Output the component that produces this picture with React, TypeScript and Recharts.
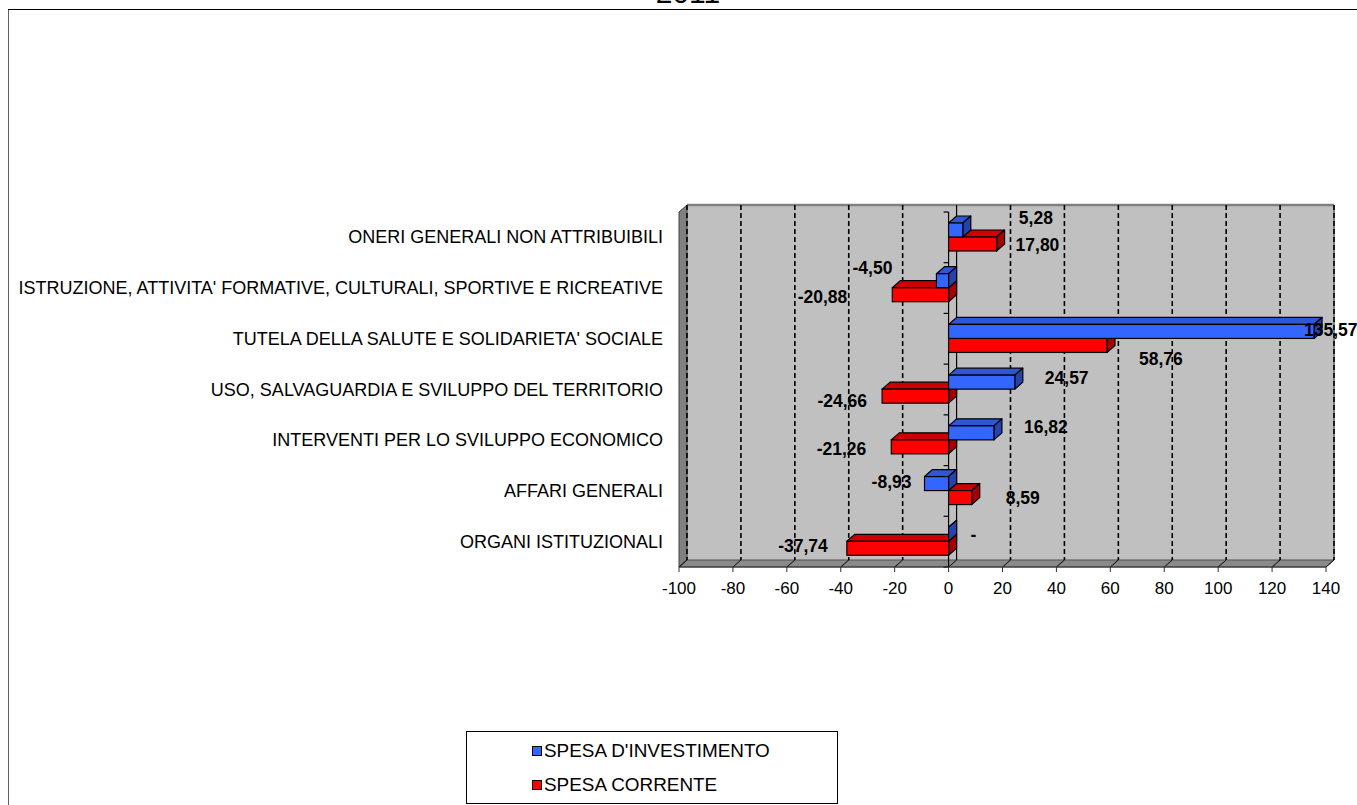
import React from "react";
import {
  BarChart,
  Bar,
  XAxis,
  YAxis,
  ReferenceArea,
  LabelList,
  Legend,
} from "recharts";

// Variazioni percentuali della spesa per funzione, anno 2011
const categories = [
  "ONERI GENERALI NON ATTRIBUIBILI",
  "ISTRUZIONE, ATTIVITA' FORMATIVE, CULTURALI, SPORTIVE E RICREATIVE",
  "TUTELA DELLA SALUTE E SOLIDARIETA' SOCIALE",
  "USO, SALVAGUARDIA E SVILUPPO DEL TERRITORIO",
  "INTERVENTI PER LO SVILUPPO ECONOMICO",
  "AFFARI GENERALI",
  "ORGANI ISTITUZIONALI",
];
const spesaInvestimento = [5.28, -4.5, 135.57, 24.57, 16.82, -8.93, 0];
const spesaCorrente = [17.8, -20.88, 58.76, -24.66, -21.26, 8.59, -37.74];
const xTicks = [-100, -80, -60, -40, -20, 0, 20, 40, 60, 80, 100, 120, 140];

// label nudges per category: [distance from bar end, vertical shift]
const invLabelShift = [[56, -12], [44, -13], [-10, -1], [30, -4], [30, -6], [13, -2], [22, 1]];
const corrLabelShift = [[19, 1], [45, 2], [32, 14], [15, 5], [25, 2], [34, 0], [19, -2]];

const FONT = "'Liberation Sans', Arial, sans-serif";
const DEPTH_X = 8;
const DEPTH_Y = -7;

const series = [
  { key: "inv", name: "SPESA D'INVESTIMENTO", front: "#3366FF", top: "#2E56D6", side: "#2343AE" },
  { key: "corr", name: "SPESA CORRENTE", front: "#FF0000", top: "#CC0000", side: "#A60000" },
];

const rows = categories.map((c, i) => ({
  category: c,
  inv: spesaInvestimento[i],
  corr: spesaCorrente[i],
}));

function fmt(v: number) {
  if (v === 0) return "-";
  return v.toFixed(2).replace(".", ",");
}

// box with a top face and a right side face
function bar3d(front: string, top: string, side: string) {
  return (props: any) => {
    const { x, y, width, height } = props;
    const l = Math.min(x, x + width);
    const r = Math.max(x, x + width);
    const t = Math.min(y, y + height);
    const b = Math.max(y, y + height);
    return (
      <g>
        <polygon
          points={`${l},${t} ${l + DEPTH_X},${t + DEPTH_Y} ${r + DEPTH_X},${t + DEPTH_Y} ${r},${t}`}
          fill={top}
          stroke="#000"
          strokeWidth={1.2}
          strokeLinejoin="round"
        />
        <polygon
          points={`${r},${t} ${r + DEPTH_X},${t + DEPTH_Y} ${r + DEPTH_X},${b + DEPTH_Y} ${r},${b}`}
          fill={side}
          stroke="#000"
          strokeWidth={1.2}
          strokeLinejoin="round"
        />
        <rect x={l} y={t} width={r - l} height={b - t} fill={front} stroke="#000" strokeWidth={1.2} />
      </g>
    );
  };
}

function valueLabel(shift: number[][]) {
  return (props: any) => {
    const vb = props.viewBox && props.viewBox.width !== undefined ? props.viewBox : props;
    const { x, y, width, height } = vb;
    const raw = Array.isArray(props.value) ? props.value[1] : props.value;
    const v = Number(raw);
    const [gap, dy] = shift[props.index] ?? [20, 0];
    const l = Math.min(x, x + width);
    const r = Math.max(x, x + width);
    const neg = v < 0;
    return (
      <text
        x={neg ? l - gap : r + gap}
        y={y + height / 2 + dy}
        textAnchor={neg ? "end" : "start"}
        dominantBaseline="central"
        fontFamily={FONT}
        fontSize={17.5}
        fontWeight="bold"
        fill="#000"
      >
        {fmt(v)}
      </text>
    );
  };
}

// walls, floor, dashed grid and the zero plane of the 3D plot
function Backdrop(props: any) {
  const { x, y, width: w, height: h } = props;
  const min = xTicks[0];
  const max = xTicks[xTicks.length - 1];
  const px = (v: number) => x + (w * (v - min)) / (max - min);
  const bx = x + DEPTH_X;
  const by = y + DEPTH_Y;
  const zero = px(0);
  const n = categories.length;
  return (
    <g>
      <rect x={bx} y={by} width={w} height={h} fill="#C0C0C0" />
      <polygon
        points={`${x},${y} ${bx},${by} ${bx},${by + h} ${x},${y + h}`}
        fill="#808080"
        stroke="#404040"
        strokeWidth={1}
      />
      <polygon
        points={`${x},${y + h} ${bx},${by + h} ${bx + w},${by + h} ${x + w},${y + h}`}
        fill="#8A8A8A"
        stroke="#505050"
        strokeWidth={1}
      />
      <line x1={bx} y1={by} x2={bx + w} y2={by} stroke="#808080" strokeWidth={2.5} />
      <line x1={bx + w} y1={by} x2={bx + w} y2={by + h} stroke="#808080" strokeWidth={2} />
      {xTicks.map((t) => (
        <g key={t}>
          {t !== 0 && (
            <line
              x1={px(t) + DEPTH_X}
              y1={by}
              x2={px(t) + DEPTH_X}
              y2={by + h}
              stroke="#000"
              strokeWidth={1.6}
              strokeDasharray="5 3"
            />
          )}
          <line x1={px(t) + DEPTH_X} y1={by + h} x2={px(t)} y2={y + h} stroke="#000" strokeWidth={1} />
        </g>
      ))}
      <line x1={zero + DEPTH_X} y1={by} x2={zero + DEPTH_X} y2={by + h} stroke="#000" strokeWidth={1.2} />
      <line x1={zero} y1={y} x2={zero} y2={y + h} stroke="#000" strokeWidth={1.2} />
      {Array.from({ length: n + 1 }, (_, i) => (
        <line key={i} x1={zero - 5} y1={y + (h * i) / n} x2={zero} y2={y + (h * i) / n} stroke="#000" strokeWidth={1.2} />
      ))}
    </g>
  );
}

function CategoryTick(props: any) {
  const { x, y, payload } = props;
  return (
    <text x={x} y={y} textAnchor="end" dominantBaseline="central" fontFamily={FONT} fontSize={18} fill="#000">
      {payload.value}
    </text>
  );
}

function LegendBox() {
  return (
    <div
      style={{
        position: "relative",
        width: 372,
        height: 73,
        border: "1px solid #000",
        boxSizing: "border-box",
        background: "#fff",
        fontFamily: FONT,
        fontSize: 18.9,
        color: "#000",
      }}
    >
      {series.map((s, i) => (
        <div
          key={s.key}
          style={{
            position: "absolute",
            left: 65,
            top: 7 + i * 34,
            height: 24,
            display: "flex",
            alignItems: "center",
            whiteSpace: "nowrap",
          }}
        >
          <span
            style={{
              display: "inline-block",
              width: 8,
              height: 8,
              background: s.front,
              border: "1px solid #000",
              marginRight: 2,
            }}
          />
          <span>{s.name}</span>
        </div>
      ))}
    </div>
  );
}

export default function App() {
  return (
    <div
      style={{
        position: "absolute",
        left: 0,
        top: 0,
        width: 1357,
        height: 805,
        overflow: "hidden",
        background: "#fff",
      }}
    >
      <svg width={1357} height={805} style={{ position: "absolute", left: 0, top: 0 }}>
        <line x1={8.5} y1={9.5} x2={8.5} y2={805} stroke="#606060" strokeWidth={1} />
        <line x1={8} y1={9.5} x2={1357} y2={9.5} stroke="#000" strokeWidth={1} />
        <text x={688} y={3} textAnchor="middle" fontFamily={FONT} fontSize={30} fill="#000">
          2011
        </text>
      </svg>
      <div style={{ position: "absolute", left: 0, top: 0 }}>
        <BarChart
          width={1357}
          height={805}
          layout="vertical"
          data={rows}
          margin={{ top: 212, right: 31, bottom: 208, left: 0 }}
          barSize={14}
          barGap={0}
        >
          <XAxis
            type="number"
            domain={[xTicks[0], xTicks[xTicks.length - 1]]}
            ticks={xTicks}
            interval={0}
            allowDataOverflow
            height={30}
            tickSize={5}
            tickMargin={10}
            stroke="#333"
            tick={{ fill: "#000", fontSize: 17, fontFamily: FONT }}
          />
          <YAxis
            type="category"
            dataKey="category"
            width={679}
            axisLine={false}
            tickLine={false}
            tickSize={0}
            tickMargin={16}
            interval={0}
            tick={<CategoryTick />}
          />
          <ReferenceArea x1={xTicks[0]} x2={xTicks[xTicks.length - 1]} shape={<Backdrop />} zIndex={-100} />
          <Bar
            dataKey="inv"
            name={series[0].name}
            fill={series[0].front}
            shape={bar3d(series[0].front, series[0].top, series[0].side)}
            isAnimationActive={false}
            zIndex={310}
          >
            <LabelList dataKey="inv" content={valueLabel(invLabelShift)} />
          </Bar>
          <Bar
            dataKey="corr"
            name={series[1].name}
            fill={series[1].front}
            shape={bar3d(series[1].front, series[1].top, series[1].side)}
            isAnimationActive={false}
            zIndex={300}
          >
            <LabelList dataKey="corr" content={valueLabel(corrLabelShift)} />
          </Bar>
          <Legend
            layout="horizontal"
            verticalAlign="middle"
            align="center"
            wrapperStyle={{ position: "absolute", left: 466, top: 731, width: 372, height: 73 }}
            content={() => <LegendBox />}
          />
        </BarChart>
      </div>
    </div>
  );
}
